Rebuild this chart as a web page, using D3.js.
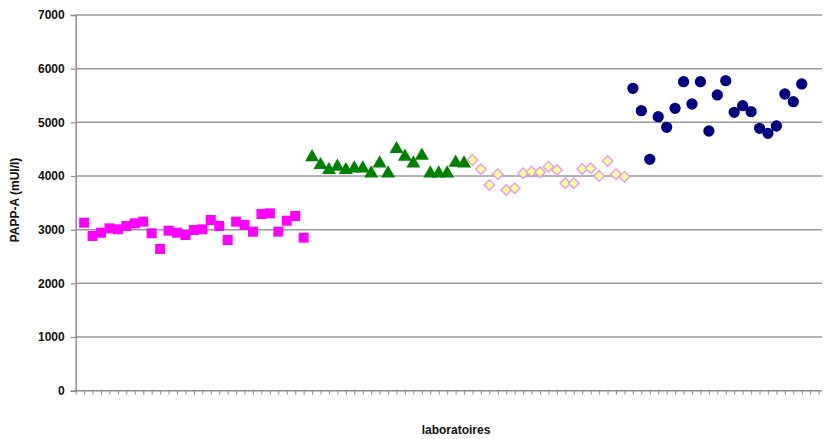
<!DOCTYPE html>
<html><head><meta charset="utf-8">
<script src="https://cdn.jsdelivr.net/npm/d3@7"></script>
<style>
html,body{margin:0;padding:0;background:#fff;}
text{font-family:"Liberation Sans",Arial,sans-serif;}
</style></head>
<body>
<svg id="chart" width="827" height="439"></svg>
<script>
const seriesMagenta = [3130,2882,2944,3025,3007,3069,3118,3149,2933,2640,2981,2944,2901,2994,3007,3180,3069,2808,3149,3087,2963,3292,3305,2963,3167,3255,2851];
const seriesGreen   = [4384,4237,4144,4205,4144,4174,4174,4081,4267,4081,4535,4392,4267,4410,4081,4081,4081,4280,4267];
const seriesYellow  = [4300,4125,3833,4032,3740,3771,4051,4081,4069,4174,4112,3864,3864,4131,4144,4000,4280,4032,3988];
const seriesNavy    = [5634,5217,4311,5105,4907,5261,5758,5342,5758,4839,5510,5776,5187,5310,5199,4889,4796,4932,5528,5385,5715];
const yTicks = [0,1000,2000,3000,4000,5000,6000,7000];
const yLabel = "PAPP-A (mUI/l)";
const xLabel = "laboratoires";
const nCategories = 88;

const svg = d3.select("#chart");
const mLeft = 75.7, mRight = 822, mTop = 15, mBottom = 390.7;

const x = d3.scaleLinear().domain([-1, 87.4]).range([mLeft, mRight]);
const y = d3.scaleLinear().domain([0, 7000]).range([mBottom, mTop]);

// gridlines
svg.append("g").selectAll("line").data(yTicks.filter(d => d > 0)).join("line")
  .attr("x1", mLeft).attr("x2", mRight)
  .attr("y1", d => y(d)).attr("y2", d => y(d))
  .attr("stroke", "#9a9a9a").attr("stroke-width", 1.5);

// y axis
const yAxis = d3.axisLeft(y).tickValues(yTicks).tickSize(5).tickPadding(6).tickFormat(d3.format("d"));
const gy = svg.append("g").attr("transform", `translate(${mLeft},0)`).call(yAxis);
gy.select(".domain").attr("stroke", "#8c8c8c").attr("stroke-width", 1.5);
gy.selectAll(".tick line").attr("stroke", "#8c8c8c").attr("stroke-width", 1.2);
gy.selectAll(".tick text").attr("font-size", 12).attr("font-weight", "bold").attr("fill", "#111")
  .attr("font-family", "Liberation Sans, Arial, sans-serif");

// x axis with category ticks
const xAxis = d3.axisBottom(x).tickValues(d3.range(-1, nCategories)).tickSize(4).tickFormat("");
const gx = svg.append("g").attr("transform", `translate(0,${mBottom})`).call(xAxis);
gx.select(".domain").attr("stroke", "#8c8c8c").attr("stroke-width", 1.5).attr("d", `M${mLeft},0H${mRight}`);
gx.selectAll(".tick line").attr("stroke", "#8c8c8c").attr("stroke-width", 1);

// labels
svg.append("text").attr("x", 456).attr("y", 434).attr("text-anchor", "middle")
  .attr("font-size", 12).attr("font-weight", "bold").attr("fill", "#111").text(xLabel);
svg.append("text").attr("transform", "translate(19,200) rotate(-90)").attr("text-anchor", "middle")
  .attr("font-size", 12).attr("font-weight", "bold").attr("fill", "#111").text(yLabel);

// points
let offset = 0;
function idx(arr) { const o = offset; offset += arr.length; return arr.map((v, i) => ({i: o + i, v})); }
const dM = idx(seriesMagenta), dG = idx(seriesGreen), dY = idx(seriesYellow), dN = idx(seriesNavy);

svg.append("g").selectAll("path").data(dM).join("path")
  .attr("transform", d => `translate(${x(d.i)},${y(d.v)})`)
  .attr("d", d3.symbol(d3.symbolSquare, 100)).attr("fill", "#ff00ff");

svg.append("g").selectAll("path").data(dG).join("path")
  .attr("transform", d => `translate(${x(d.i)},${y(d.v) + 1.7})`)
  .attr("d", d3.symbol(d3.symbolTriangle, 85)).attr("fill", "#008000");

svg.append("g").selectAll("path").data(dY).join("path")
  .attr("transform", d => `translate(${x(d.i)},${y(d.v)}) rotate(45)`)
  .attr("d", d3.symbol(d3.symbolSquare, 56)).attr("fill", "#ffff99")
  .attr("stroke", "#e89ae8").attr("stroke-width", 1.4);

svg.append("g").selectAll("path").data(dN).join("path")
  .attr("transform", d => `translate(${x(d.i)},${y(d.v)})`)
  .attr("d", d3.symbol(d3.symbolCircle, 100)).attr("fill", "#000080");
</script>
</body></html>
